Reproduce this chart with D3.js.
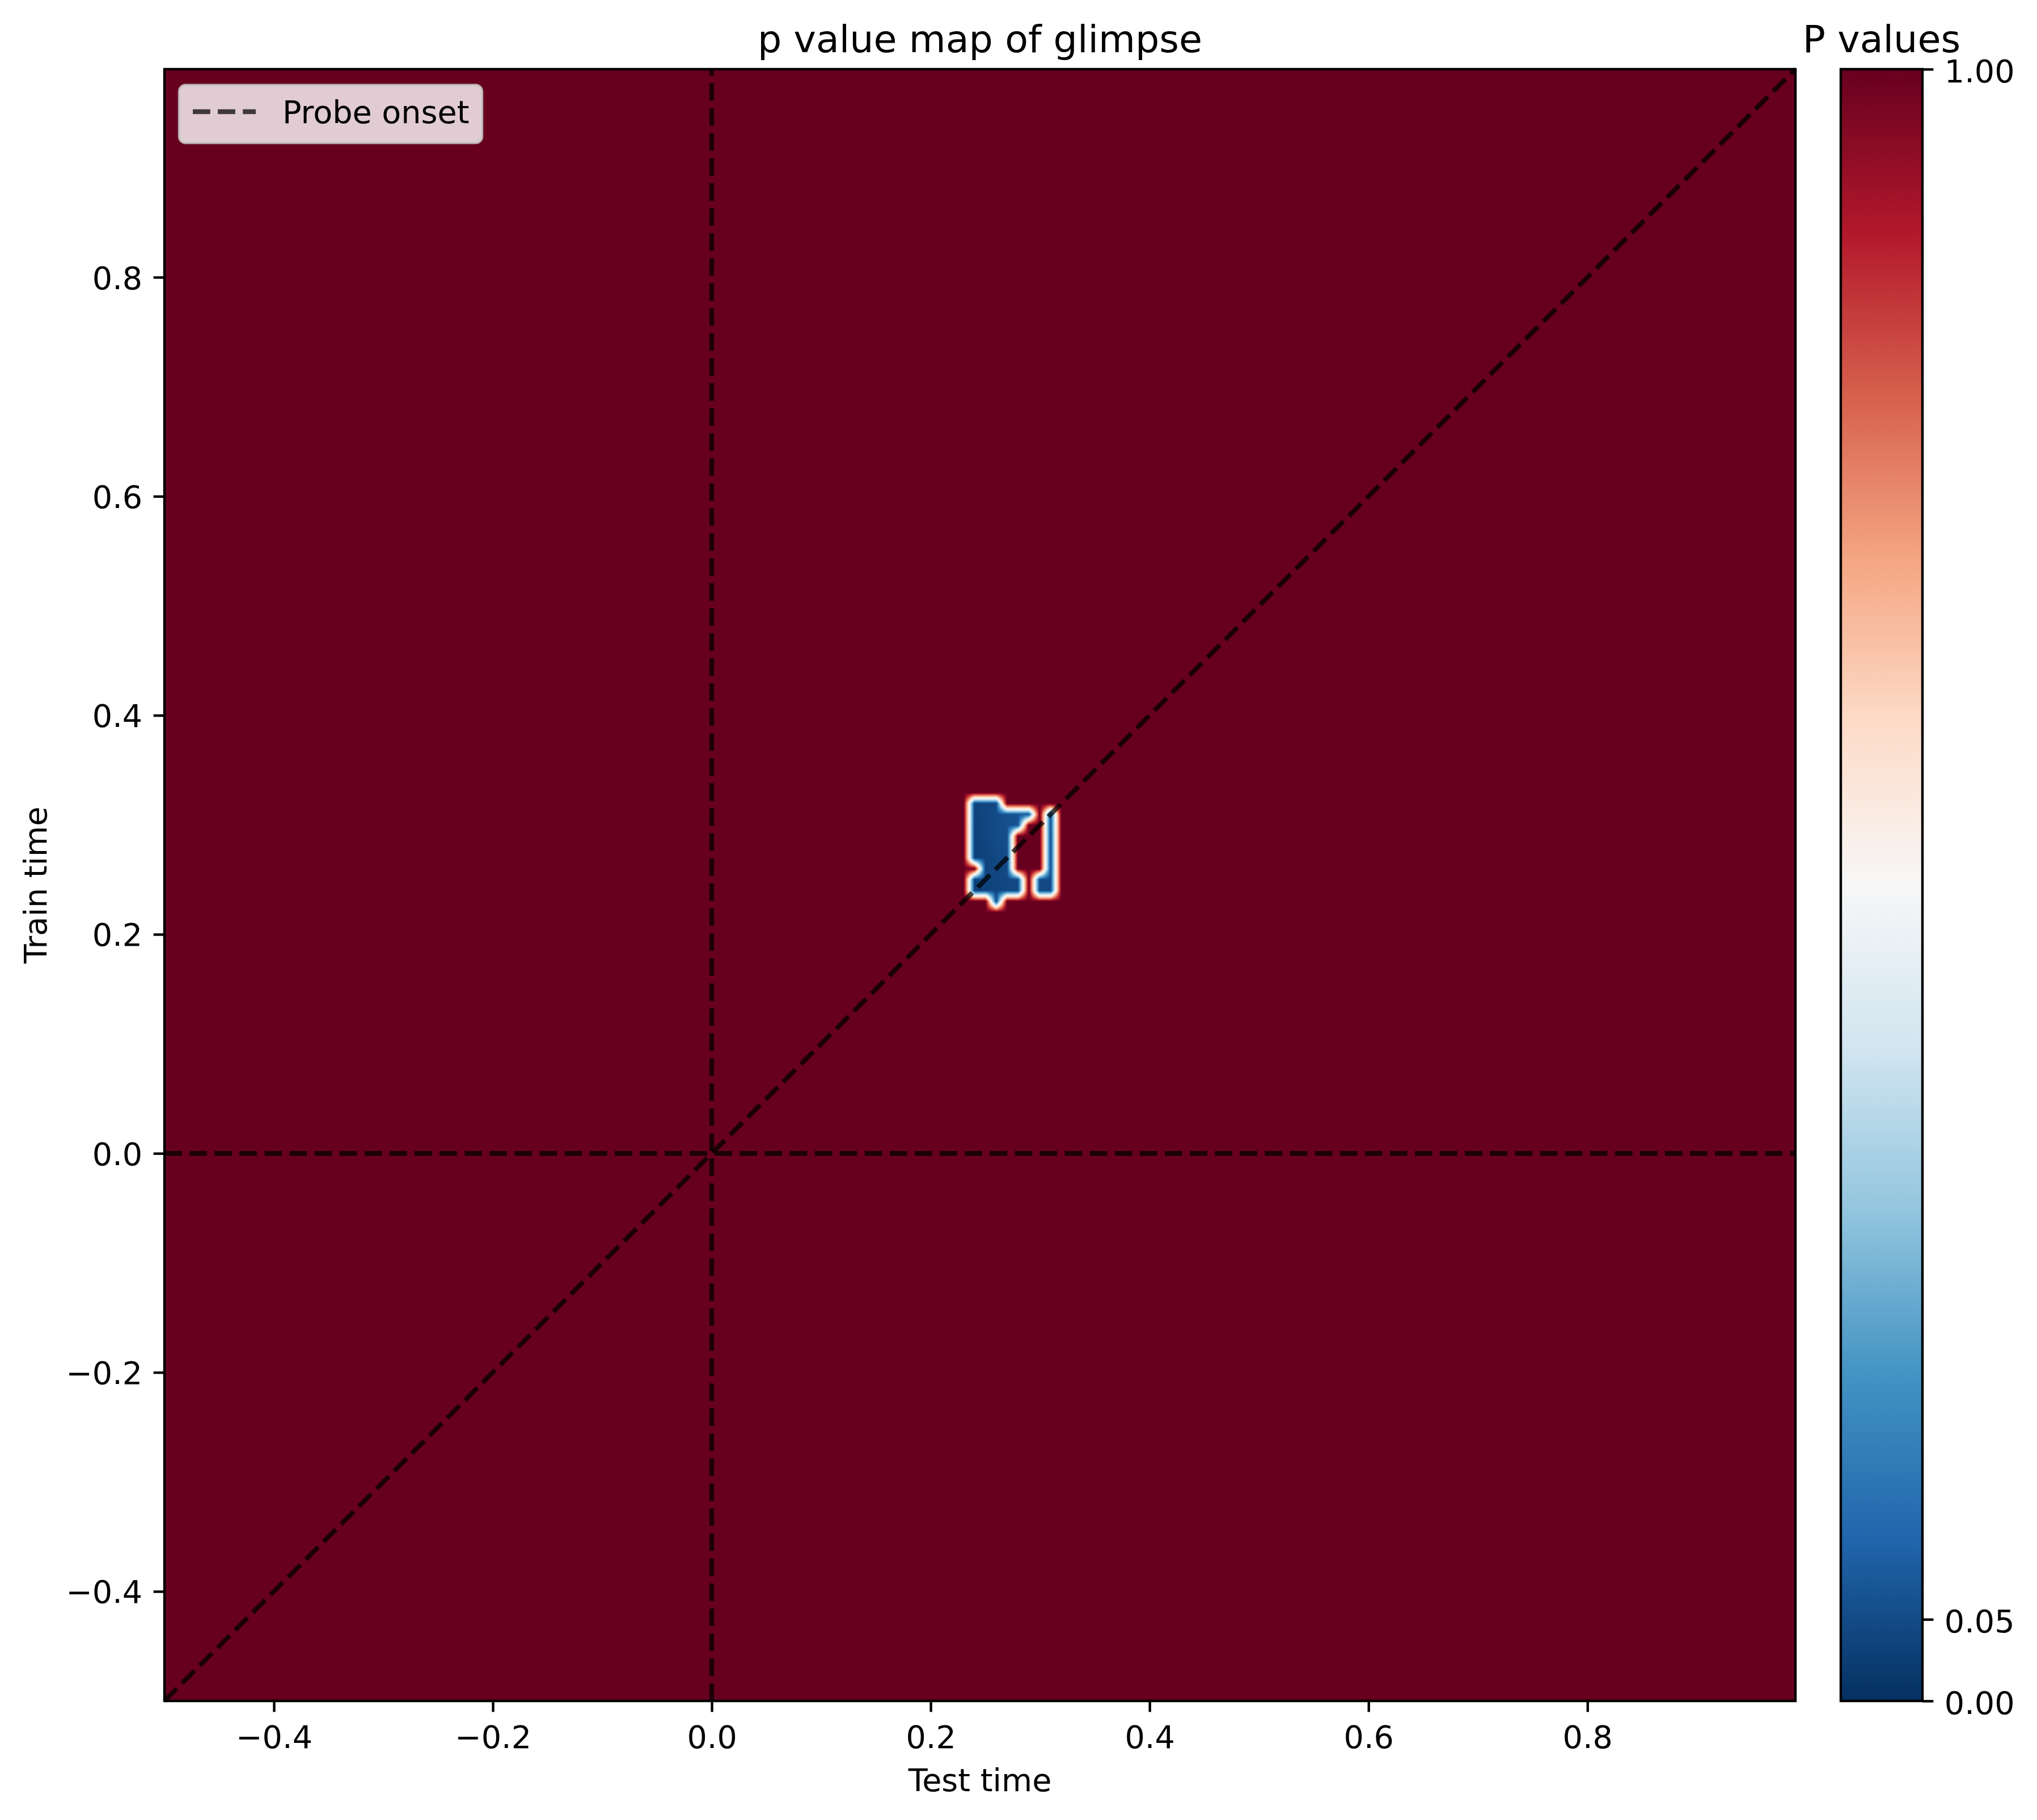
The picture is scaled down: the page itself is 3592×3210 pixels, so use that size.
<!DOCTYPE html>
<html>
<head>
<meta charset="utf-8">
<script src="https://cdn.jsdelivr.net/npm/d3@7"></script>
<style>
  body { margin: 0; background: #fff; }
  svg { display: block; font-family: "DejaVu Sans", sans-serif; }
</style>
</head>
<body>
<svg id="chart"></svg>
<script>
// time grid of the decoding matrix (train x test), seconds
const T_MIN = -0.5;
const T_MAX = 0.99;
const N_TIMES = 150;

const testTicks = [-0.4, -0.2, 0.0, 0.2, 0.4, 0.6, 0.8];
const trainTicks = [-0.4, -0.2, 0.0, 0.2, 0.4, 0.6, 0.8];
const cbarTicks = [0.0, 0.05, 1.0];

// RdBu_r stops, p = 0 ... 1
const rdbuStops = ['#053061', '#2166ac', '#4393c3', '#92c5de', '#d1e5f0', '#f7f7f7',
  '#fddbc7', '#f4a582', '#d6604d', '#b2182b', '#67001f'];

// everything outside this block has p = 1
const blobCols = [74, 75, 76, 77, 78, 79, 80, 81];          // test time index
const blobRows = [82, 81, 80, 79, 78, 77, 76, 75, 74, 73];  // train time index
const blobP = [
  [0.035, 0.040, 0.045, 1,     1,     1,     1,     1    ],
  [0.035, 0.040, 0.050, 0.060, 0.065, 0.070, 1,     0.055],
  [0.030, 0.040, 0.050, 0.058, 0.062, 1,     1,     0.052],
  [0.030, 0.040, 0.052, 0.055, 1,     1,     1,     0.050],
  [0.030, 0.036, 0.048, 0.052, 1,     1,     1,     0.048],
  [0.030, 0.036, 0.045, 0.048, 1,     1,     1,     0.046],
  [1,     0.036, 0.042, 0.046, 1,     1,     1,     0.046],
  [0.030, 0.034, 0.040, 0.044, 0.048, 1,     0.046, 0.046],
  [0.030, 0.034, 0.038, 0.042, 0.046, 1,     0.045, 0.045],
  [1,     1,     0.040, 1,     1,     1,     1,     1    ]
];

const refLines = [
  { x1: 0, y1: T_MIN, x2: 0, y2: T_MAX },
  { x1: T_MIN, y1: 0, x2: T_MAX, y2: 0 },
  { x1: T_MIN, y1: T_MIN, x2: T_MAX, y2: T_MAX }
];

const W = 3592, H = 3210;
const plot = { left: 290, right: 3166, top: 122, bottom: 3000 };
const cbar = { left: 3246, right: 3390 };
const fs = 55.6, titleFs = 66.7, lw = 4.4;

const svg = d3.select('#chart').attr('width', W).attr('height', H);

const x = d3.scaleLinear().domain([T_MIN, T_MAX]).range([plot.left, plot.right]);
const y = d3.scaleLinear().domain([T_MIN, T_MAX]).range([plot.bottom, plot.top]);
const color = d3.scaleLinear()
  .domain(d3.range(rdbuStops.length).map(i => i / (rdbuStops.length - 1)))
  .range(rdbuStops)
  .interpolate(d3.interpolateRgb)
  .clamp(true);

// full p matrix [row][col]
const pGrid = new Float32Array(N_TIMES * N_TIMES).fill(1);
blobRows.forEach((r, ri) => {
  blobCols.forEach((c, ci) => { pGrid[r * N_TIMES + c] = blobP[ri][ci]; });
});
const pAt = (c, r) => {
  c = Math.max(0, Math.min(N_TIMES - 1, c));
  r = Math.max(0, Math.min(N_TIMES - 1, r));
  return pGrid[r * N_TIMES + c];
};

// bilinear raster of the matrix, coloured through the scale
const imgW = Math.round(plot.right - plot.left);
const imgH = Math.round(plot.bottom - plot.top);
const canvas = document.createElement('canvas');
canvas.width = imgW;
canvas.height = imgH;
const ctx = canvas.getContext('2d');
const imageData = ctx.createImageData(imgW, imgH);
const px = imageData.data;
const cellW = (T_MAX - T_MIN) / N_TIMES;
const lut = d3.range(1001).map(i => d3.rgb(color(i / 1000)));

for (let py = 0; py < imgH; py++) {
  const v = (y.invert(plot.top + py + 0.5) - T_MIN) / cellW - 0.5;
  const r0 = Math.floor(v), fv = v - r0;
  for (let pxi = 0; pxi < imgW; pxi++) {
    const u = (x.invert(plot.left + pxi + 0.5) - T_MIN) / cellW - 0.5;
    const c0 = Math.floor(u), fu = u - c0;
    const p = (pAt(c0, r0) * (1 - fu) + pAt(c0 + 1, r0) * fu) * (1 - fv) +
              (pAt(c0, r0 + 1) * (1 - fu) + pAt(c0 + 1, r0 + 1) * fu) * fv;
    const col = lut[Math.round(p * 1000)];
    const k = (py * imgW + pxi) * 4;
    px[k] = col.r; px[k + 1] = col.g; px[k + 2] = col.b; px[k + 3] = 255;
  }
}
ctx.putImageData(imageData, 0, 0);

svg.append('image')
  .attr('x', plot.left)
  .attr('y', plot.top)
  .attr('width', imgW)
  .attr('height', imgH)
  .attr('preserveAspectRatio', 'none')
  .attr('href', canvas.toDataURL());

// dashed reference lines
svg.append('g')
  .selectAll('line')
  .data(refLines)
  .enter()
  .append('line')
  .attr('x1', d => x(d.x1))
  .attr('y1', d => y(d.y1))
  .attr('x2', d => x(d.x2))
  .attr('y2', d => y(d.y2))
  .attr('stroke', '#000')
  .attr('stroke-opacity', 0.72)
  .attr('stroke-width', 8.3)
  .attr('stroke-dasharray', '30.8,13.3');

// axes
const styleAxis = (g) => {
  g.select('.domain').remove();
  g.selectAll('.tick line').attr('stroke', '#000').attr('stroke-width', lw);
  g.selectAll('.tick text').attr('fill', '#000').attr('font-size', fs).attr('font-family', 'DejaVu Sans');
};

svg.append('g')
  .attr('transform', `translate(0,${plot.bottom})`)
  .call(d3.axisBottom(x).tickValues(testTicks).tickFormat(d3.format('.1f'))
    .tickSize(19.4).tickPadding(19.4))
  .call(styleAxis)
  .call(g => g.selectAll('.tick text').attr('dy', '0.8em'));

svg.append('g')
  .attr('transform', `translate(${plot.left},0)`)
  .call(d3.axisLeft(y).tickValues(trainTicks).tickFormat(d3.format('.1f'))
    .tickSize(19.4).tickPadding(19.4))
  .call(styleAxis)
  .call(g => g.selectAll('.tick text').attr('dy', '0.36em'));

svg.append('rect')
  .attr('x', plot.left)
  .attr('y', plot.top)
  .attr('width', plot.right - plot.left)
  .attr('height', plot.bottom - plot.top)
  .attr('fill', 'none')
  .attr('stroke', '#000')
  .attr('stroke-width', lw);

// legend
const legend = svg.append('g');
legend.append('rect')
  .attr('x', 316).attr('y', 150)
  .attr('width', 534).attr('height', 102)
  .attr('rx', 11)
  .attr('fill', '#fff').attr('fill-opacity', 0.8)
  .attr('stroke', '#ccc').attr('stroke-opacity', 0.8)
  .attr('stroke-width', 4.4);
legend.append('line')
  .attr('x1', 340).attr('x2', 451)
  .attr('y1', 197).attr('y2', 197)
  .attr('stroke', '#000')
  .attr('stroke-opacity', 0.72)
  .attr('stroke-width', 8.3)
  .attr('stroke-dasharray', '30.8,13.3');
legend.append('text')
  .attr('x', 498).attr('y', 217)
  .attr('font-size', fs)
  .text('Probe onset');

// titles and labels
svg.append('text')
  .attr('x', (plot.left + plot.right) / 2).attr('y', 92)
  .attr('text-anchor', 'middle')
  .attr('font-size', titleFs)
  .text('p value map of glimpse');

svg.append('text')
  .attr('x', (plot.left + plot.right) / 2).attr('y', 3159)
  .attr('text-anchor', 'middle')
  .attr('font-size', fs)
  .text('Test time');

svg.append('text')
  .attr('transform', `translate(82,${(plot.top + plot.bottom) / 2}) rotate(-90)`)
  .attr('text-anchor', 'middle')
  .attr('font-size', fs)
  .text('Train time');

// colorbar
const cb = d3.scaleLinear().domain([0, 1]).range([plot.bottom, plot.top]);
const grad = svg.append('defs').append('linearGradient')
  .attr('id', 'cbar-grad')
  .attr('x1', 0).attr('y1', 1).attr('x2', 0).attr('y2', 0);
grad.selectAll('stop')
  .data(rdbuStops)
  .enter()
  .append('stop')
  .attr('offset', (d, i) => i / (rdbuStops.length - 1))
  .attr('stop-color', d => d);

svg.append('rect')
  .attr('x', cbar.left)
  .attr('y', cb(1))
  .attr('width', cbar.right - cbar.left)
  .attr('height', cb(0) - cb(1))
  .attr('fill', 'url(#cbar-grad)')
  .attr('stroke', '#000')
  .attr('stroke-width', lw);

svg.append('g')
  .attr('transform', `translate(${cbar.right},0)`)
  .call(d3.axisRight(cb).tickValues(cbarTicks).tickFormat(d3.format('.2f'))
    .tickSize(19.4).tickPadding(19.4))
  .call(styleAxis)
  .call(g => g.selectAll('.tick text').attr('dy', '0.4em'));

svg.append('text')
  .attr('x', (cbar.left + cbar.right) / 2).attr('y', 92)
  .attr('text-anchor', 'middle')
  .attr('font-size', titleFs)
  .text('P values');
</script>
</body>
</html>
